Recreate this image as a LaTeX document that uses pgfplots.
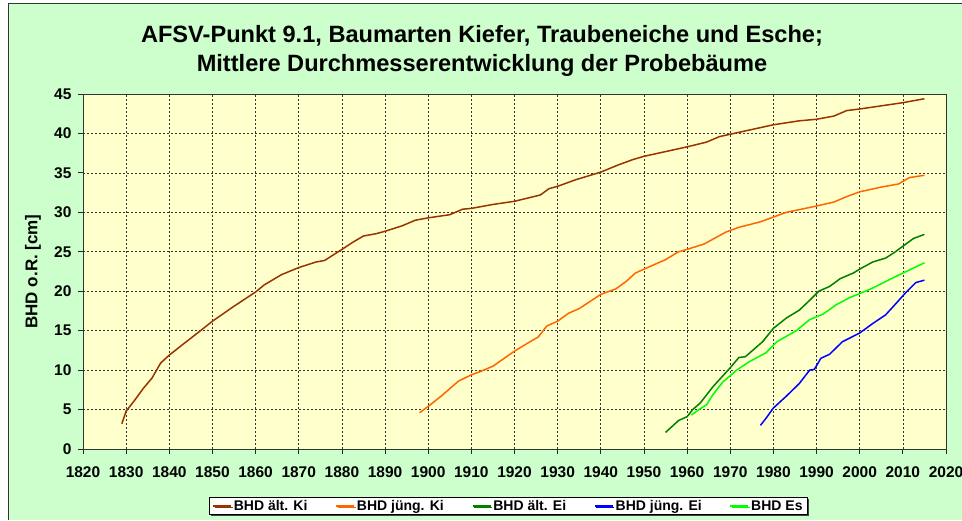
\documentclass[border=0pt]{standalone}
\usepackage{pgfplots}
\pgfplotsset{compat=1.18}
\usetikzlibrary{shadows}
\usepackage{fontspec}
\setmainfont{Liberation Sans}
\definecolor{chartbg}{RGB}{204,255,204}
\definecolor{plotbg}{RGB}{255,255,204}
\definecolor{cbrown}{RGB}{153,51,0}
\definecolor{corange}{RGB}{255,102,0}
\definecolor{cdgreen}{RGB}{0,128,0}
\definecolor{cblue}{RGB}{0,0,255}
\definecolor{clgreen}{RGB}{0,255,0}
\begin{document}
\begin{tikzpicture}
\path[use as bounding box] (0pt,0pt) rectangle (962pt,520pt);
\fill[white] (0pt,0pt) rectangle (962pt,520pt);
\fill[chartbg] (8pt,0pt) rectangle (962pt,516pt);
\draw[black!80, line width=1pt] (8pt,0pt) -- (8pt,516pt) -- (962pt,516pt);
\node[font=\bfseries\fontsize{23.6}{29}\selectfont, align=center] at (482pt,469pt)
  {AFSV-Punkt 9.1, Baumarten Kiefer, Traubeneiche und Esche;\\Mittlere Durchmesserentwicklung der Probebäume};
\begin{axis}[
  at={(83pt,71pt)}, anchor=south west,
  scale only axis, width=863pt, height=355pt,
  xmin=1820, xmax=2020, ymin=0, ymax=45,
  xtick distance=10, ytick distance=5,
  xtick pos=left, ytick pos=left,
  tick align=outside, major tick length=5pt,
  tick style={black!85, line width=0.8pt},
  axis line style={black!80, line width=0.8pt},
  axis background/.style={fill=plotbg},
  grid=major,
  major grid style={black!80, line width=0.7pt, dash pattern=on 2pt off 2pt},
  /pgf/number format/1000 sep={},
  /pgf/number format/assume math mode=true,
  tick label style={font=\bfseries\fontsize{15.5}{15.5}\selectfont},
  xticklabel style={yshift=-9pt},
  yticklabel style={xshift=-3pt},
  ylabel={BHD o.R. [cm]},
  every axis y label/.style={at={(axis description cs:-0.0579,0.5)}, rotate=90, anchor=center, font=\bfseries\fontsize{17}{17}\selectfont},
  legend columns=5,
  legend style={at={(0.493,-0.1606)}, anchor=center, draw=black, fill=white, line width=0.8pt,
    drop shadow={shadow xshift=1.5pt, shadow yshift=-1.5pt, fill=black!75, opacity=1},
    font=\bfseries\fontsize{14}{14}\selectfont, inner ysep=1pt,
    /tikz/every even column/.append style={column sep=26pt}},
  legend image code/.code={\draw[#1,line width=1.5pt] (0pt,0pt) -- (18pt,0pt);},
  every axis plot/.append style={line width=1.5pt, no markers},
]
\addplot[cbrown] coordinates {
(1829,3.2)(1830,4.8)(1832,6.2)(1834,7.7)(1836,9.0)(1838,10.9)(1840,11.9)(1843,13.2)(1847,14.9)
(1850,16.2)(1855,18.1)(1860,19.9)(1862,20.8)(1866,22.1)(1870,23.0)(1874,23.7)(1876,23.9)
(1880,25.3)(1882.5,26.2)(1885,27.0)(1888,27.3)(1890,27.6)(1894,28.3)(1897,29.0)(1900,29.3)
(1905,29.7)(1908,30.4)(1910,30.5)(1915,31.0)(1920,31.4)(1926,32.2)(1928,33.0)(1930,33.3)
(1934,34.1)(1940,35.1)(1944,36.0)(1947.5,36.7)(1950,37.1)(1955,37.7)(1960,38.3)(1964.5,38.9)
(1967.5,39.6)(1970,39.9)(1975,40.5)(1980,41.1)(1986,41.6)(1990,41.8)(1994,42.2)(1997,42.9)
(2000,43.1)(2005,43.5)(2010,43.9)(2015,44.4)};
\addlegendentry{BHD ält. Ki}
\addplot[corange] coordinates {
(1898,4.6)(1900,5.4)(1903,6.7)(1907,8.6)(1910,9.4)(1912,9.8)(1915,10.5)(1920,12.4)(1923,13.4)
(1925.5,14.2)(1927.5,15.6)(1930,16.2)(1932.5,17.2)(1935,17.8)(1940,19.6)(1943.5,20.3)(1946,21.3)
(1948,22.3)(1950,22.8)(1955,24.0)(1958,25.0)(1960,25.3)(1964,26.0)(1969,27.5)(1972,28.1)
(1977,28.8)(1980,29.4)(1983,30.0)(1990,30.8)(1994,31.3)(1997,32.0)(2000,32.6)(2005,33.2)
(2009,33.6)(2011.5,34.4)(2015,34.7)};
\addlegendentry{BHD jüng. Ki}
\addplot[cdgreen] coordinates {
(1955,2.1)(1958,3.6)(1960,4.1)(1961.3,5.0)(1963,5.8)(1966,7.9)(1970,10.3)(1972,11.6)(1973.5,11.7)
(1977.5,13.6)(1980,15.3)(1983,16.6)(1986,17.6)(1988.5,18.9)(1990.5,20.0)(1993,20.6)(1995.5,21.6)
(1998.5,22.3)(2000,22.8)(2003,23.7)(2006,24.2)(2008,24.9)(2010,25.7)(2012.5,26.7)(2015,27.2)};
\addlegendentry{BHD ält. Ei}
\addplot[cblue] coordinates {
(1977,3.0)(1978.3,3.9)(1980,5.2)(1983,6.7)(1986,8.3)(1988.4,10.0)(1989.5,10.1)(1991,11.5)
(1993,12.0)(1996,13.6)(2000,14.7)(2003,15.9)(2006,17.0)(2008.5,18.5)(2010.8,19.9)(2013,21.1)(2015,21.4)};
\addlegendentry{BHD jüng. Ei}
\addplot[clgreen] coordinates {
(1961,4.3)(1963,5.1)(1964.5,5.6)(1966,6.9)(1968.3,8.5)(1971.5,10.0)(1974.5,11.1)(1978.3,12.2)
(1980.8,13.6)(1985.3,15.0)(1988.4,16.4)(1991.5,17.1)(1994.6,18.3)(1997.7,19.2)(2000,19.7)
(2003,20.4)(2007,21.5)(2010,22.3)(2015,23.6)};
\addlegendentry{BHD Es}
\end{axis}
\end{tikzpicture}
\end{document}
